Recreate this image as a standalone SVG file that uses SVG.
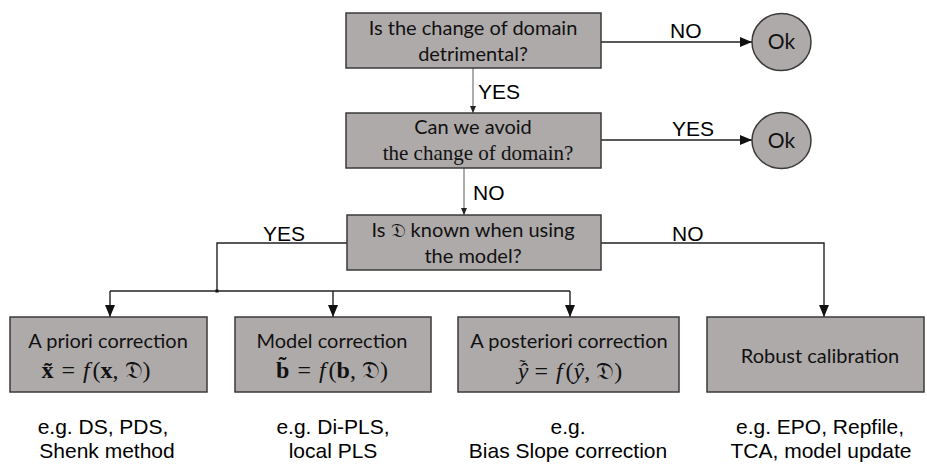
<svg xmlns="http://www.w3.org/2000/svg" width="927" height="464" viewBox="0 0 927 464">
<defs>
<style>
.box{fill:#aeaaaa;stroke:#3a3a3a;stroke-width:1.5}
.bt{font-family:Lato,"Open Sans",sans-serif;font-size:20px;fill:#111;text-anchor:middle}
.ok{font-family:Lato,"Open Sans",sans-serif;font-size:21px;fill:#111;text-anchor:middle}
.st{font-family:"Liberation Serif","DejaVu Serif",serif;font-size:21px;fill:#111;text-anchor:middle}
.mt{font-family:"Liberation Serif","DejaVu Serif",serif;font-size:24px;fill:#111;text-anchor:middle}
.lb{font-family:"Liberation Sans",Arial,sans-serif;font-size:21px;fill:#000}
.ex{font-family:"Liberation Sans",Arial,sans-serif;font-size:21px;fill:#000;text-anchor:middle}
.c{fill:none;stroke:#222;stroke-width:1.4}
.cg{fill:none;stroke:#8a8a8a;stroke-width:1.4}
.fr{font-family:"DejaVu Serif","DejaVu Sans",serif}
</style>
<marker id="ah" viewBox="0 0 12 10" refX="12" refY="5" markerWidth="12" markerHeight="10" markerUnits="userSpaceOnUse" orient="auto">
<path d="M0,0 L12,5 L0,10 z" fill="#111"/>
</marker>
<marker id="ahs" viewBox="0 0 7 6" refX="7" refY="3" markerWidth="7" markerHeight="6" markerUnits="userSpaceOnUse" orient="auto">
<path d="M0,0 L7,3 L0,6 z" fill="#222"/>
</marker>
</defs>
<rect width="927" height="464" fill="#fff"/>
<g id="connectors">
<line class="c" x1="601" y1="42" x2="752" y2="42" marker-end="url(#ah)"/>
<line class="cg" x1="473" y1="68" x2="473" y2="113" marker-end="url(#ahs)"/>
<line class="c" x1="601" y1="140" x2="752" y2="140" marker-end="url(#ah)"/>
<line class="cg" x1="464" y1="168" x2="464" y2="215" marker-end="url(#ahs)"/>
<polyline class="c" points="347,243 217,243 217,291"/>
<line class="c" x1="110" y1="291" x2="570" y2="291"/>
<line class="c" x1="110" y1="291" x2="110" y2="317" marker-end="url(#ah)"/>
<line class="c" x1="333" y1="291" x2="333" y2="317" marker-end="url(#ah)"/>
<line class="c" x1="570" y1="291" x2="570" y2="317" marker-end="url(#ah)"/>
<rect x="215.5" y="289.5" width="3" height="3" fill="#111"/>
<polyline class="c" points="601,243 824,243 824,317" marker-end="url(#ah)"/>
<text class="lb" x="670" y="38">NO</text>
<text class="lb" x="478" y="99">YES</text>
<text class="lb" x="672" y="136">YES</text>
<text class="lb" x="473" y="200">NO</text>
<text class="lb" x="263" y="241">YES</text>
<text class="lb" x="672" y="241">NO</text>
</g>
<g id="q1">
<rect class="box" x="346" y="13" width="255" height="55"/>
<text class="bt" x="473" y="35">Is the change of domain</text>
<text class="bt" x="473" y="61">detrimental?</text>
</g>
<g id="ok1">
<ellipse class="box" cx="781.5" cy="42" rx="29.5" ry="28.5"/>
<text class="ok" x="781.5" y="49">Ok</text>
</g>
<g id="q2">
<rect class="box" x="346" y="113" width="255" height="55"/>
<text class="bt" x="473" y="134">Can we avoid</text>
<text class="st" x="478" y="160">the change of domain?</text>
</g>
<g id="ok2">
<ellipse class="box" cx="781.5" cy="140.5" rx="29.5" ry="28"/>
<text class="ok" x="781.5" y="148">Ok</text>
</g>
<g id="q3">
<rect class="box" x="347" y="215" width="254" height="55"/>
<text class="bt" x="473" y="237">Is <tspan class="fr">𝔇</tspan> known when using</text>
<text class="bt" x="473" y="263">the model?</text>
</g>
<g id="apriori">
<rect class="box" x="10" y="317" width="197" height="75"/>
<text class="bt" x="108" y="348">A priori correction</text>
<text class="mt" x="96" y="378"><tspan font-weight="bold">x̃</tspan><tspan dx="8">=</tspan><tspan dx="8" font-style="italic">f</tspan><tspan dx="3">(</tspan><tspan font-weight="bold">x</tspan><tspan>,</tspan><tspan dx="6" class="fr">𝔇</tspan><tspan>)</tspan></text>
</g>
<g id="model">
<rect class="box" x="235" y="317" width="196" height="75"/>
<text class="bt" x="332" y="348">Model correction</text>
<text class="mt" x="332" y="378"><tspan font-weight="bold">b̃</tspan><tspan dx="8">=</tspan><tspan dx="8" font-style="italic">f</tspan><tspan dx="3">(</tspan><tspan font-weight="bold">b</tspan><tspan>,</tspan><tspan dx="6" class="fr">𝔇</tspan><tspan>)</tspan></text>
</g>
<g id="aposteriori">
<rect class="box" x="458" y="317" width="221" height="75"/>
<text class="bt" x="569" y="348">A posteriori correction</text>
<text class="mt" x="570" y="379"><tspan font-style="italic">ŷ</tspan><tspan dx="-9" dy="-6" font-size="18">˜</tspan><tspan dx="9" dy="6">=</tspan><tspan dx="8" font-style="italic">f</tspan><tspan dx="3">(</tspan><tspan font-style="italic">ŷ</tspan><tspan>,</tspan><tspan dx="6" class="fr">𝔇</tspan><tspan>)</tspan></text>
</g>
<g id="robust">
<rect class="box" x="707" y="317" width="217" height="75"/>
<text class="bt" x="820" y="363">Robust calibration</text>
</g>
<g id="examples">
<text class="ex" x="103" y="434">e.g. DS, PDS,</text>
<text class="ex" x="107" y="458">Shenk method</text>
<text class="ex" x="333" y="434">e.g. Di-PLS,</text>
<text class="ex" x="333" y="458">local PLS</text>
<text class="ex" x="568" y="434">e.g.</text>
<text class="ex" x="568" y="458">Bias Slope correction</text>
<text class="ex" x="820" y="434">e.g. EPO, Repfile,</text>
<text class="ex" x="821" y="458">TCA, model update</text>
</g>
</svg>
